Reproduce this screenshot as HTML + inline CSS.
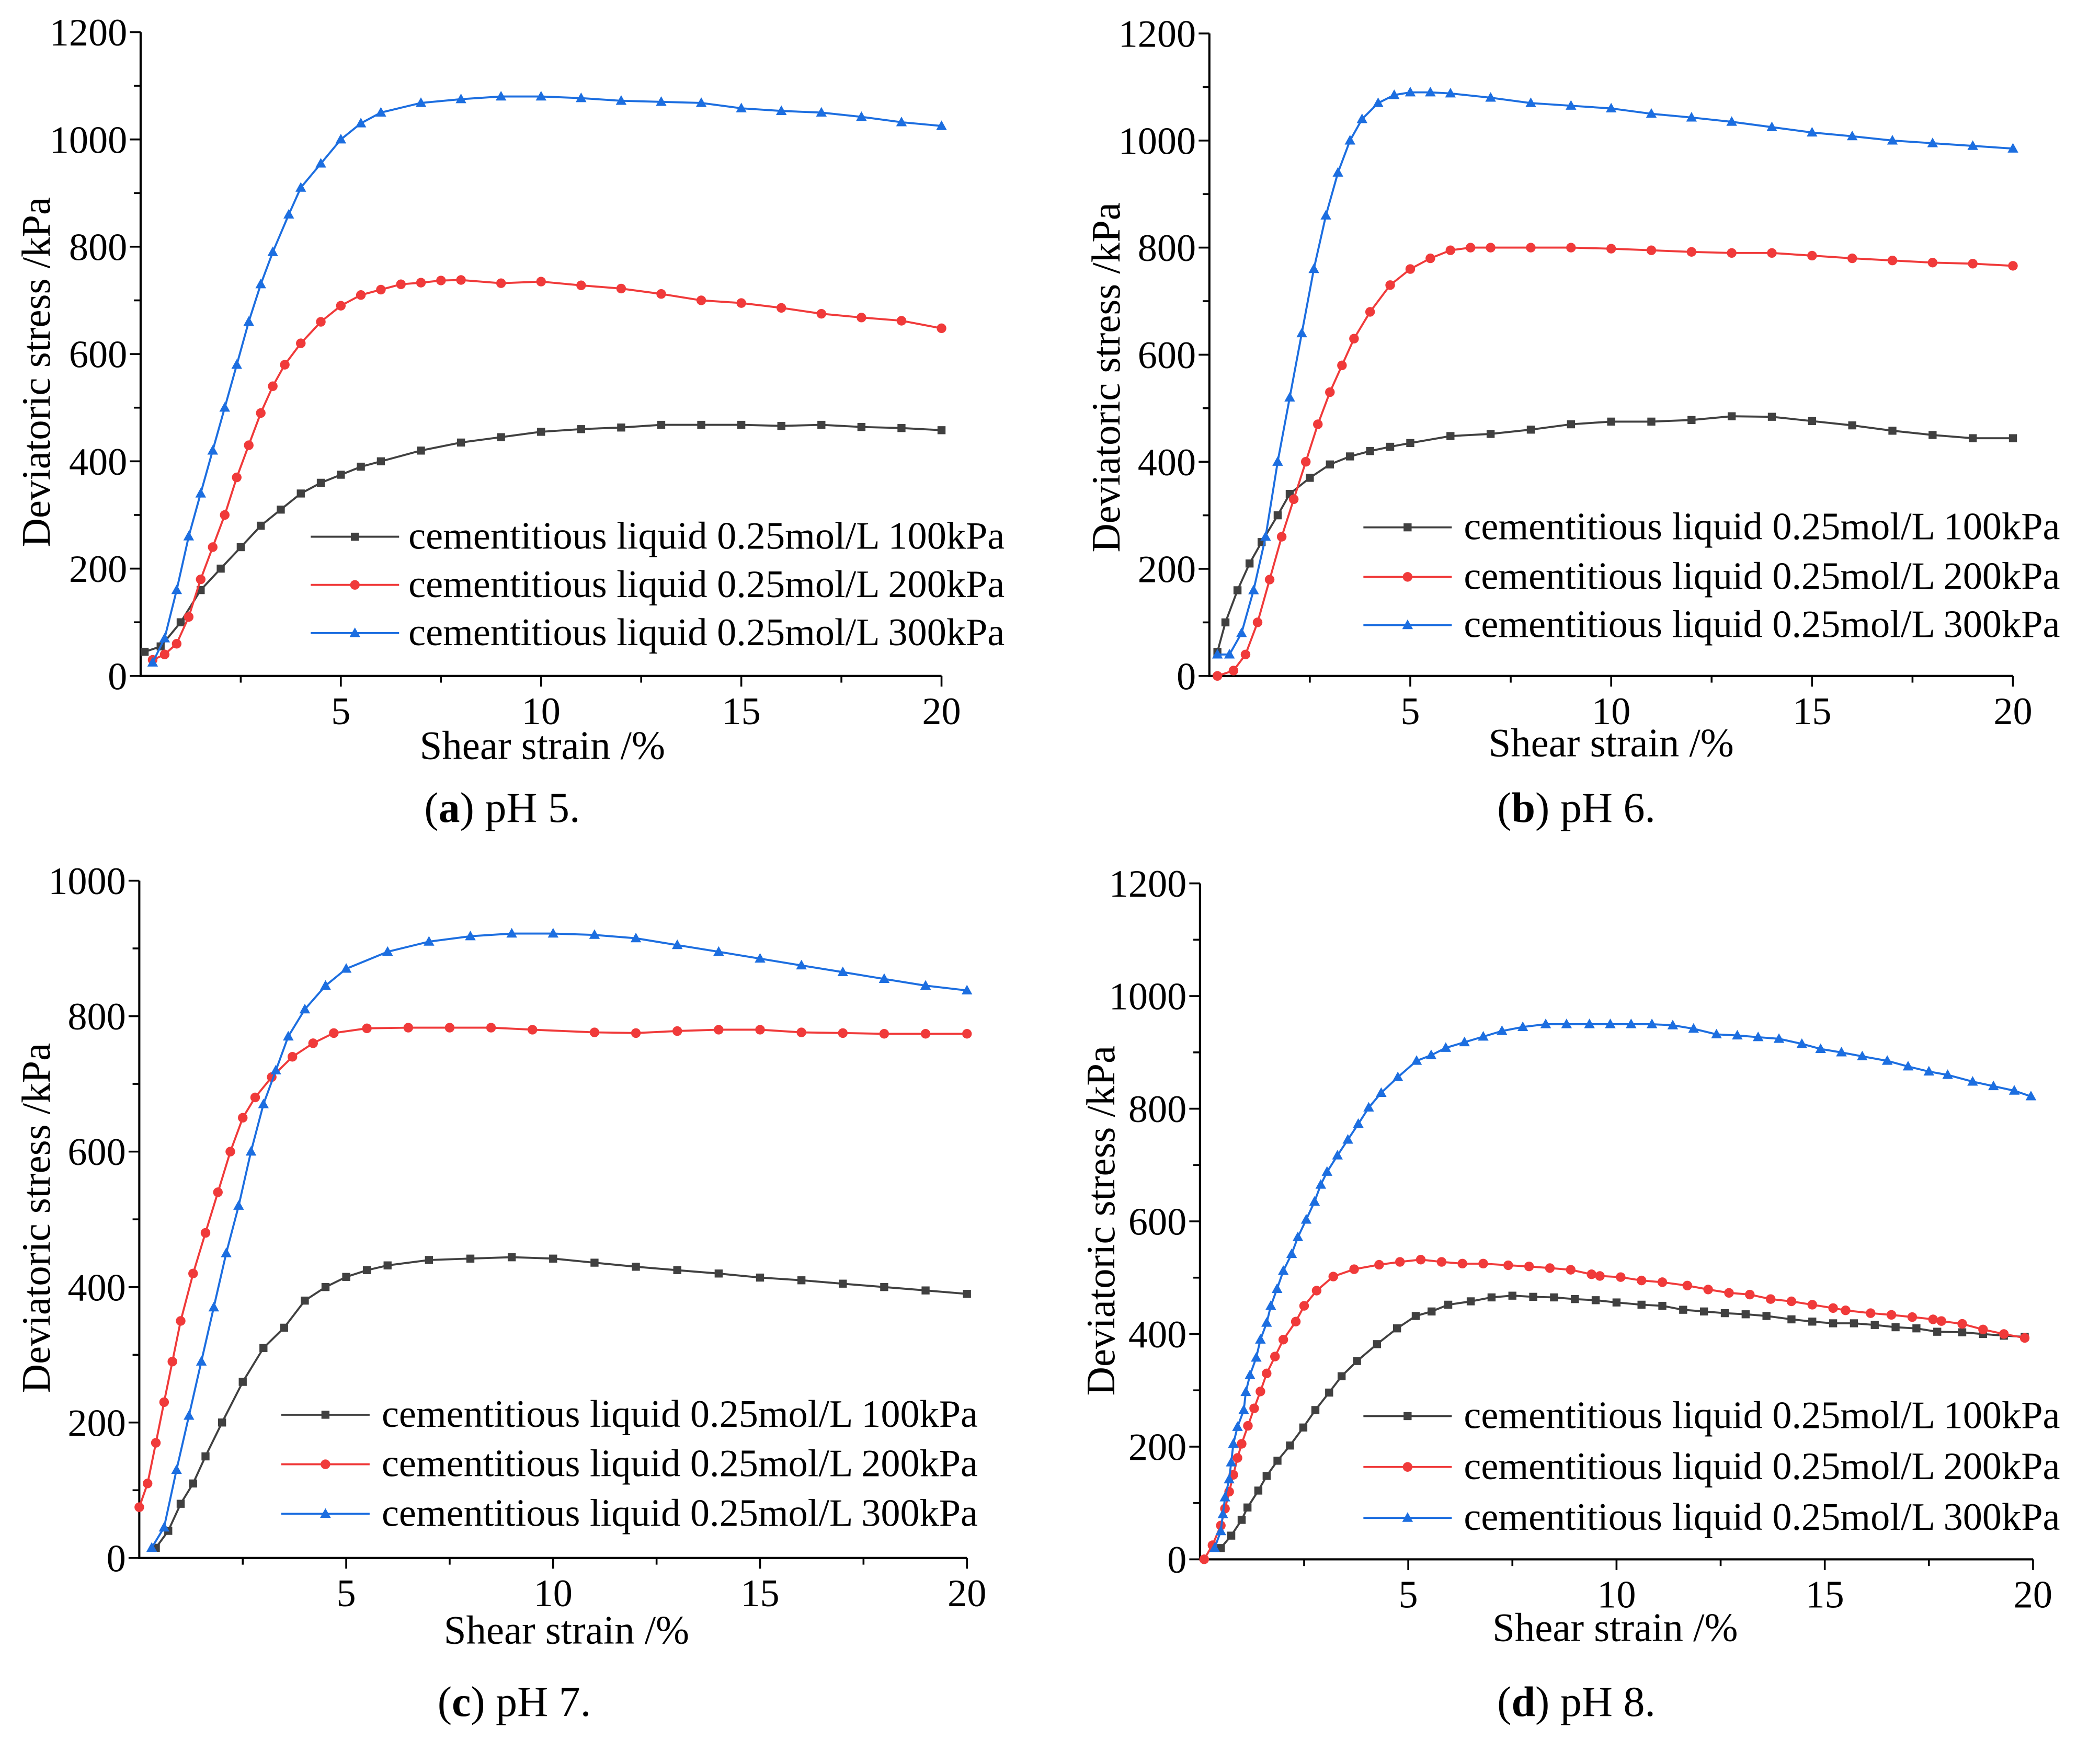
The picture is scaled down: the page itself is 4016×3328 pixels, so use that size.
<!DOCTYPE html>
<html><head><meta charset="utf-8"><title>Deviatoric stress vs shear strain</title>
<style>
html,body{margin:0;padding:0;background:#fff;}
svg{display:block;}
text{font-family:"Liberation Serif","DejaVu Serif",serif;fill:#000;}
</style></head>
<body>
<svg id="fig" xmlns="http://www.w3.org/2000/svg" width="4016" height="3328" viewBox="0 0 1568 1300" preserveAspectRatio="none"></svg>
<script>
// ---- data (strain %, deviatoric stress kPa) ----
const legendLabels = ["cementitious liquid 0.25mol/L 100kPa","cementitious liquid 0.25mol/L 200kPa","cementitious liquid 0.25mol/L 300kPa"];
const xTicks = [5,10,15,20];
const yTicksA = [0,200,400,600,800,1000,1200];
const yTicksC = [0,200,400,600,800,1000];

const aX100 = [0.1,0.5,1,1.5,2,2.5,3,3.5,4,4.5,5,5.5,6,7,8,9,10,11,12,13,14,15,16,17,18,19,20];
const aY100 = [45,55,100,160,200,240,280,310,340,360,375,390,400,420,435,445,455,460,463,468,468,468,466,468,464,462,458];
const aX200 = [0.3,0.6,0.9,1.2,1.5,1.8,2.1,2.4,2.7,3,3.3,3.6,4,4.5,5,5.5,6,6.5,7,7.5,8,9,10,11,12,13,14,15,16,17,18,19,20];
const aY200 = [30,40,60,110,180,240,300,370,430,490,540,580,620,660,690,710,720,730,733,737,738,732,735,728,722,712,700,695,686,675,668,662,648];
const aX300 = [0.3,0.6,0.9,1.2,1.5,1.8,2.1,2.4,2.7,3,3.3,3.7,4,4.5,5,5.5,6,7,8,9,10,11,12,13,14,15,16,17,18,19,20];
const aY300 = [25,70,160,260,340,420,500,580,660,730,790,860,910,955,1000,1030,1050,1068,1075,1080,1080,1077,1072,1070,1068,1058,1053,1050,1042,1032,1025];

const bX100 = [0.2,0.4,0.7,1,1.3,1.7,2,2.5,3,3.5,4,4.5,5,6,7,8,9,10,11,12,13,14,15,16,17,18,19,20];
const bY100 = [45,100,160,210,250,300,340,370,395,410,420,428,435,448,452,460,470,475,475,478,485,484,476,468,458,450,444,444];
const bX200 = [0.2,0.6,0.9,1.2,1.5,1.8,2.1,2.4,2.7,3,3.3,3.6,4,4.5,5,5.5,6,6.5,7,8,9,10,11,12,13,14,15,16,17,18,19,20];
const bY200 = [0,10,40,100,180,260,330,400,470,530,580,630,680,730,760,780,795,800,800,800,800,798,795,792,790,790,785,780,776,772,770,766];
const bX300 = [0.2,0.5,0.8,1.1,1.4,1.7,2,2.3,2.6,2.9,3.2,3.5,3.8,4.2,4.6,5,5.5,6,7,8,9,10,11,12,13,14,15,16,17,18,19,20];
const bY300 = [40,40,80,160,260,400,520,640,760,860,940,1000,1040,1070,1085,1090,1090,1088,1080,1070,1065,1060,1050,1043,1035,1025,1015,1008,1000,995,990,985];

const cX100 = [0.4,0.7,1,1.3,1.6,2,2.5,3,3.5,4,4.5,5,5.5,6,7,8,9,10,11,12,13,14,15,16,17,18,19,20];
const cY100 = [15,40,80,110,150,200,260,310,340,380,400,415,425,432,440,442,444,442,436,430,425,420,414,410,405,400,395,390];
const cX200 = [0,0.2,0.4,0.6,0.8,1,1.3,1.6,1.9,2.2,2.5,2.8,3.2,3.7,4.2,4.7,5.5,6.5,7.5,8.5,9.5,11,12,13,14,15,16,17,18,19,20];
const cY200 = [75,110,170,230,290,350,420,480,540,600,650,680,710,740,760,775,782,783,783,783,780,776,775,778,780,780,776,775,774,774,774];
const cX300 = [0.3,0.6,0.9,1.2,1.5,1.8,2.1,2.4,2.7,3,3.3,3.6,4,4.5,5,6,7,8,9,10,11,12,13,14,15,16,17,18,19,20];
const cY300 = [15,45,130,210,290,370,450,520,600,670,720,770,810,845,870,895,910,918,922,922,920,915,905,895,885,875,865,855,845,838];

const dX100 = [0.5,0.75,1,1.14,1.4,1.6,1.86,2.16,2.48,2.77,3.1,3.4,3.77,4.25,4.73,5.18,5.56,5.96,6.5,7,7.5,8,8.5,9,9.5,10,10.6,11.1,11.6,12.1,12.6,13.1,13.6,14.2,14.7,15.2,15.7,16.2,16.7,17.2,17.7,18.3,18.8,19.3,19.8];
const dY100 = [20,42,70,92,122,148,175,202,234,265,296,325,352,382,410,432,440,452,458,465,468,466,465,462,460,456,452,450,443,440,437,435,432,426,422,419,419,416,412,410,404,403,400,397,395];
const dX200 = [0.1,0.3,0.5,0.6,0.7,0.8,0.9,1.0,1.15,1.3,1.45,1.6,1.8,2.0,2.3,2.5,2.8,3.2,3.7,4.3,4.8,5.3,5.8,6.3,6.8,7.4,7.9,8.4,8.9,9.4,9.6,10.1,10.6,11.1,11.7,12.2,12.7,13.2,13.7,14.2,14.7,15.2,15.5,16.1,16.6,17.1,17.6,17.8,18.3,18.8,19.3,19.8];
const dY200 = [0,25,60,90,120,150,180,205,237,268,298,330,360,390,422,450,477,502,515,523,528,532,528,525,525,522,520,517,514,506,503,501,495,492,486,479,473,470,462,458,452,446,442,437,434,430,426,423,418,408,400,393];
const dX300 = [0.35,0.5,0.55,0.6,0.7,0.75,0.8,0.9,1.05,1.1,1.2,1.35,1.45,1.6,1.7,1.85,2.0,2.2,2.35,2.55,2.75,2.9,3.05,3.3,3.55,3.8,4.05,4.35,4.75,5.2,5.55,5.9,6.35,6.8,7.25,7.75,8.3,8.8,9.35,9.85,10.35,10.85,11.35,11.85,12.4,12.9,13.4,13.9,14.45,14.9,15.4,15.9,16.5,17,17.5,17.95,18.55,19.05,19.55,19.95];
const dY300 = [20,50,80,110,142,172,205,235,265,297,327,358,390,420,450,480,512,542,572,603,635,665,688,717,745,773,802,828,856,885,895,908,918,928,938,945,950,950,950,950,950,950,948,942,932,930,927,924,915,906,900,893,885,875,866,860,848,840,832,822];

const colors = ["#404040","#f03a3a","#1c6ee0"];
const panels = [
 {id:"a", x0:105, x1:703, yb:505, yt:24, ymax:1200, yTicks:yTicksA, series:[[aX100,aY100],[aX200,aY200],[aX300,aY300]],
  leg:{lx:232, tx:305, ys:[401,437,473]}, ytl:[27,278], xtl:[405,567], cap:[375,614], label:"a", ph:"pH 5."},
 {id:"b", x0:903, x1:1503, yb:505, yt:25, ymax:1200, yTicks:yTicksA, series:[[bX100,bY100],[bX200,bY200],[bX300,bY300]],
  leg:{lx:1018, tx:1093, ys:[394,431,467]}, ytl:[826,282], xtl:[1203,565], cap:[1177,614], label:"b", ph:"pH 6."},
 {id:"c", x0:104, x1:722, yb:1164, yt:658, ymax:1000, yTicks:yTicksC, series:[[cX100,cY100],[cX200,cY200],[cX300,cY300]],
  leg:{lx:210, tx:285, ys:[1057,1094,1131]}, ytl:[27,910], xtl:[423,1228], cap:[384,1282], label:"c", ph:"pH 7."},
 {id:"d", x0:896, x1:1518, yb:1165, yt:660, ymax:1200, yTicks:yTicksA, series:[[dX100,dY100],[dX200,dY200],[dX300,dY300]],
  leg:{lx:1018, tx:1093, ys:[1058,1096,1134]}, ytl:[822,912], xtl:[1206,1226], cap:[1177,1282], label:"d", ph:"pH 8."}
];

const NS = "http://www.w3.org/2000/svg";
const FF = '"Liberation Serif","DejaVu Serif",serif';
const svg = document.getElementById("fig");
function mk(tag, attrs, parent){
  const e = document.createElementNS(NS, tag);
  for (const k in attrs) e.setAttribute(k, attrs[k]);
  if (tag==="text") e.setAttribute("font-family", FF);
  (parent||svg).appendChild(e);
  return e;
}
function marker(g, k, x, y, c){
  let m;
  if (k===0) m = mk("rect",{x:x-3,y:y-3,width:6,height:6,fill:c},g);
  else if (k===1) m = mk("circle",{cx:x,cy:y,r:3.6,fill:c},g);
  else m = mk("polygon",{points:`${x},${y-4.2} ${x-4},${y+3} ${x+4},${y+3}`,fill:c},g);
  return m;
}

panels.forEach(p=>{
  const sx = v => p.x0 + (v/20)*(p.x1-p.x0);
  const sy = v => p.yb - (v/p.ymax)*(p.yb-p.yt);
  const g = mk("g",{});
  
  

  const ax = mk("path",{d:`M${p.x0},${p.yt} L${p.x0},${p.yb} L${p.x1},${p.yb}`,fill:"none",stroke:"#000","stroke-width":1.6},g);
  
  

  const yStep = p.yTicks[1]-p.yTicks[0];
  for (let v=0; v<=p.ymax+1e-6; v+=yStep/2){
    const major = Math.abs((v/yStep)-Math.round(v/yStep))<1e-6;
    mk("line",{x1:p.x0-(major?8:5),x2:p.x0,y1:sy(v),y2:sy(v),stroke:"#000","stroke-width":1.4},g);
  }
  p.yTicks.forEach(v=>{
    const t = mk("text",{x:p.x0-10,y:sy(v)+10,"text-anchor":"end","font-size":29},g);
    t.textContent = v;
    
    
  });
  for (let v=2.5; v<=20.01; v+=2.5){
    const major = (v%5)===0;
    mk("line",{x1:sx(v),x2:sx(v),y1:p.yb,y2:p.yb+(major?8:5),stroke:"#000","stroke-width":1.4},g);
  }
  xTicks.forEach(v=>{
    const t = mk("text",{x:sx(v),y:p.yb+36,"text-anchor":"middle","font-size":29},g);
    t.textContent = v;
    
    
  });

  const yt = mk("text",{x:0,y:0,"text-anchor":"middle","font-size":30,transform:`translate(${p.ytl[0]+10},${p.ytl[1]}) rotate(-90)`},g);
  yt.textContent = "Deviatoric stress /kPa";
  
  
  const xt = mk("text",{x:p.xtl[0],y:p.xtl[1],"text-anchor":"middle","font-size":30},g);
  xt.textContent = "Shear strain /%";
  
  

  p.series.forEach((s,k)=>{
    const sg = mk("g",{},g);
    
    
    const pts = s[0].map((x,i)=>`${sx(x).toFixed(1)},${sy(s[1][i]).toFixed(1)}`).join(" ");
    const pl = mk("polyline",{points:pts,fill:"none",stroke:colors[k],"stroke-width":1.5},sg);
    
    
    s[0].forEach((x,i)=>{
      const m = marker(sg,k,sx(x),sy(s[1][i]),colors[k]);
      
      
    });
  });

  const lg = mk("g",{},g);
  
  
  legendLabels.forEach((lab,k)=>{
    const y = p.leg.ys[k];
    const eg = mk("g",{},lg);
    
    
    mk("line",{x1:p.leg.lx,x2:p.leg.lx+66,y1:y,y2:y,stroke:colors[k],"stroke-width":1.5},eg);
    marker(eg,k,p.leg.lx+33,y,colors[k]);
    const t = mk("text",{x:p.leg.tx,y:y+9,"font-size":29},eg);
    t.textContent = lab;
  });

  const cap = mk("text",{x:p.cap[0],y:p.cap[1],"text-anchor":"middle","font-size":32},g);
  
  
  const t1 = mk("tspan",{},cap); t1.textContent = "(";
  const t2 = mk("tspan",{"font-weight":"bold"},cap); t2.textContent = p.label;
  const t3 = mk("tspan",{},cap); t3.textContent = ") " + p.ph;
});
</script>
</body></html>
